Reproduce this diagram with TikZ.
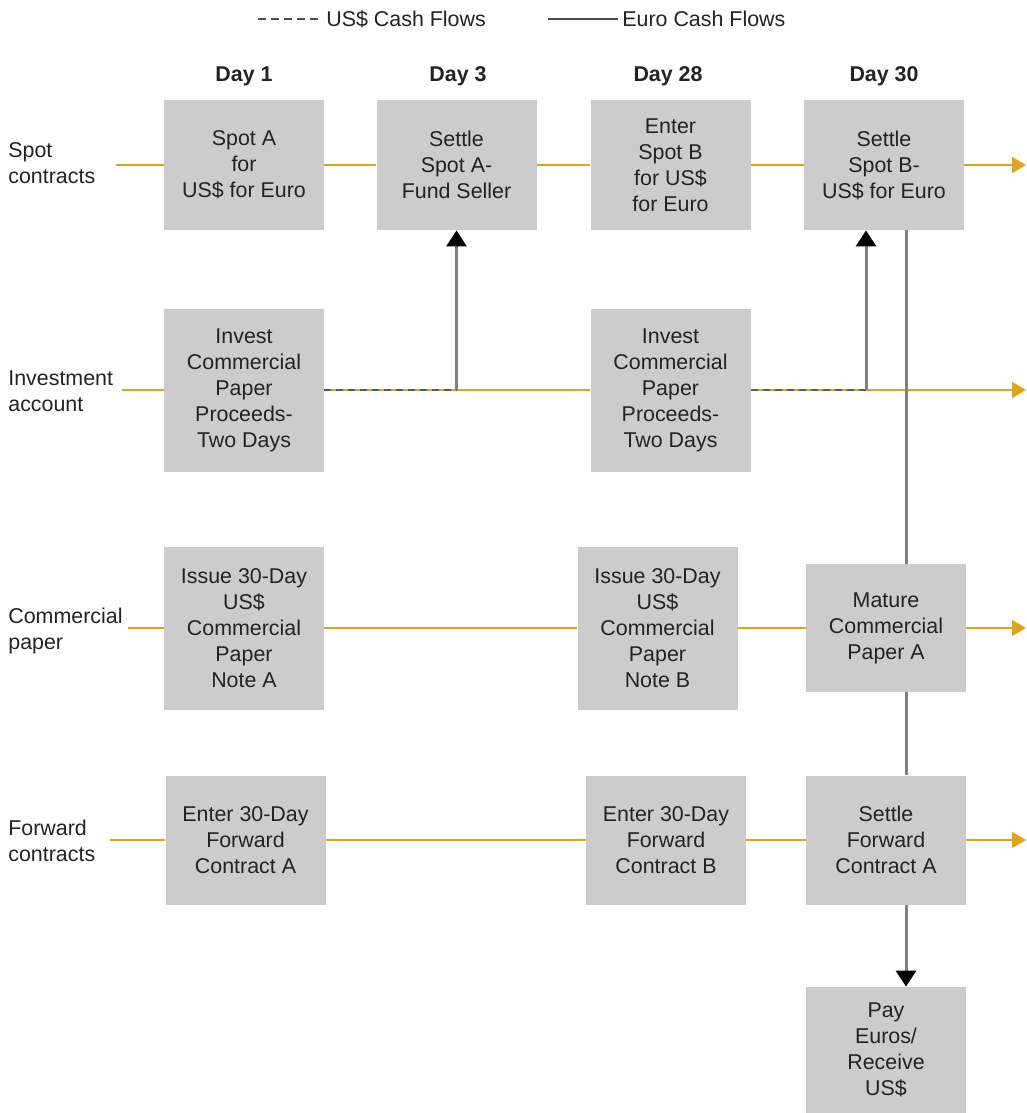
\documentclass[tikz,border=0pt]{standalone}
\usepackage{fontspec}
\setmainfont{Liberation Sans}
\usetikzlibrary{arrows.meta}

\definecolor{gold}{RGB}{218,165,32}
\definecolor{boxgray}{RGB}{204,204,204}
\definecolor{flowgray}{RGB}{128,128,128}
\definecolor{txtgray}{RGB}{35,35,35}

\begin{document}
\begin{tikzpicture}[x=0.5pt, y=-0.5pt, font=\fontsize{10.7}{13}\selectfont, text=txtgray,
    box/.style={fill=boxgray, align=center, inner sep=0pt, minimum width=80pt},
    rowlabel/.style={anchor=west, align=left, inner sep=0pt},
    daylabel/.style={font=\fontsize{10.7}{13}\selectfont\bfseries},
    timeline/.style={color=gold, line width=1pt},
    timearrow/.style={timeline, -{Triangle[width=8pt,length=7pt]}},
    usd/.style={color=black!65, line width=1.1pt, dash pattern=on 3.5pt off 2.5pt},
    euro/.style={color=flowgray, line width=1.5pt},
    euroarrow/.style={euro, -{Triangle[width=10pt,length=8pt,black]}}]
    \useasboundingbox (0,0) rectangle (1027,1113);

    % Legend
    \coordinate (usdL) at (258,19);
    \node [anchor=west, inner sep=0pt] (usdtxt) at (326,19) {US\$ Cash Flows};
    \coordinate (eurL) at (548,19);
    \node [anchor=west, inner sep=0pt] (eurtxt) at (622,19) {Euro Cash Flows};
    \draw [black!70, line width=0.8pt, dash pattern=on 4pt off 2.5pt] (usdL) -- ([xshift=-3pt]usdtxt.west);
    \draw [black!70, line width=0.8pt] (eurL) -- ([xshift=-2pt]eurtxt.west);

    % Days
    \node [daylabel] (d1)  at (244,76)   {Day 1};
    \node [daylabel] (d3)  at (458,76)   {Day 3};
    \node [daylabel] (d28) at (668,76)   {Day 28};
    \node [daylabel] (d30) at (884,76)   {Day 30};

    % Row labels
    \node [rowlabel] (lspot) at (8,163) {Spot\\contracts};
    \node [rowlabel] (linv)  at (8,391) {Investment\\account};
    \node [rowlabel] (lcp)   at (8,631) {Commercial\\paper};
    \node [rowlabel] (lfwd)  at (8,841) {Forward\\contracts};

    % Nodes {spot, investment, commercial paper, forward, payment}
    \node [box, minimum height=65pt]   (s1)  at (244,165)   {Spot A\\for\\US\$ for Euro};
    \node [box, minimum height=65pt]   (s3)  at (456.5,165) {Settle\\Spot A-\\Fund Seller};
    \node [box, minimum height=65pt]   (s28) at (670.5,165) {Enter\\Spot B\\for US\$\\for Euro};
    \node [box, minimum height=65pt]   (s30) at (884,165)   {Settle\\Spot B-\\US\$ for Euro};

    \node [box, minimum height=81.5pt] (i1)  at (244,390)   {Invest\\Commercial\\Paper\\Proceeds-\\Two Days};
    \node [box, minimum height=81.5pt] (i28) at (670.5,390) {Invest\\Commercial\\Paper\\Proceeds-\\Two Days};

    \node [box, minimum height=81.5pt] (c1)  at (244,628)   {Issue 30-Day\\US\$\\Commercial\\Paper\\Note A};
    \node [box, minimum height=81.5pt] (c28) at (657.5,628) {Issue 30-Day\\US\$\\Commercial\\Paper\\Note B};
    \node [box, minimum height=64pt]   (m30) at (886,628)   {Mature\\Commercial\\Paper A};

    \node [box, minimum height=64.5pt] (f1)  at (245.5,840) {Enter 30-Day\\Forward\\Contract A};
    \node [box, minimum height=64.5pt] (f28) at (666,840)   {Enter 30-Day\\Forward\\Contract B};
    \node [box, minimum height=64.5pt] (f30) at (886,840)   {Settle\\Forward\\Contract A};

    \node [box, minimum height=63pt]   (p30) at (886,1050)  {Pay\\Euros/\\Receive\\US\$};

    % Time lines
    \coordinate (sL) at (116,165);   \coordinate (sR) at (1026,165);
    \coordinate (iL) at (122,390);   \coordinate (iR) at (1026,390);
    \coordinate (cL) at (128,628);   \coordinate (cR) at (1026,628);
    \coordinate (fL) at (110,840);   \coordinate (fR) at (1026,840);

    \path [timeline]  (sL) edge (s1) (s1) edge (s3) (s3) edge (s28) (s28) edge (s30);
    \path [timearrow] (s30) edge (sR);
    \path [timeline]  (iL) edge (i1) (i1) edge (i28);
    \path [timearrow] (i28) edge (iR);
    \path [timeline]  (cL) edge (c1) (c1) edge (c28) (c28) edge (m30);
    \path [timearrow] (m30) edge (cR);
    \path [timeline]  (fL) edge (f1) (f1) edge (f28) (f28) edge (f30);
    \path [timearrow] (f30) edge (fR);

    % Cash flows
    \coordinate (j3)  at (s3 |- i1);
    \coordinate (j30) at (866,390);
    \coordinate (vx)  at (906,0);
    \draw [usd]       (i1) -- (j3);
    \draw [euroarrow] (j3) -- (s3);
    \draw [usd]       (i28) -- (j30);
    \draw [euroarrow] (j30) -- (j30 |- s30.south);
    \draw [euro]      (s30.south -| vx) -- (m30.north -| vx);
    \draw [euro]      (m30.south -| vx) -- (f30.north -| vx);
    \draw [euroarrow] (f30.south -| vx) -- (p30.north -| vx);

\end{tikzpicture}
\end{document}
